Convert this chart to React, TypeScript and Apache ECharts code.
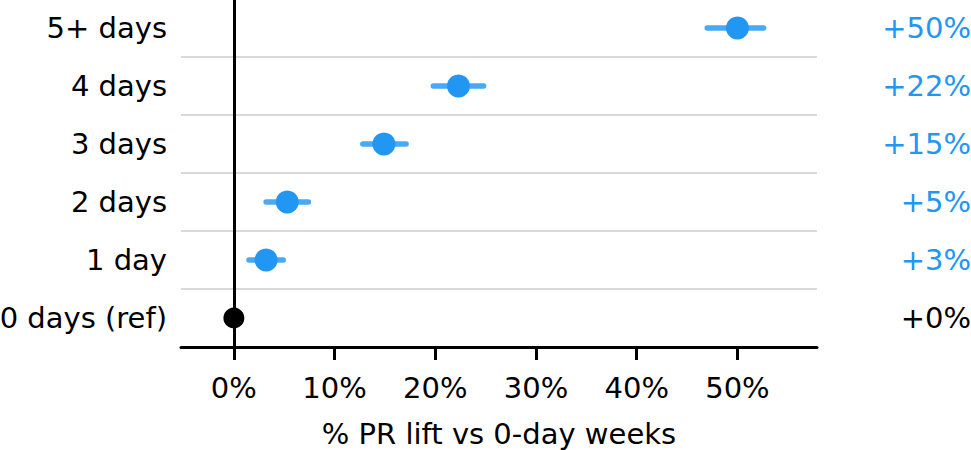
import React, { useEffect, useRef } from "react";
import * as echarts from "echarts";

// Weekly activity buckets (bottom to top)
const categories = ["0 days (ref)", "1 day", "2 days", "3 days", "4 days", "5+ days"];
// Point estimate of PR lift (%) relative to 0-day weeks
const lift = [0, 3.2, 5.3, 14.9, 22.3, 50.0];
// Confidence interval bounds (%)
const ciLow = [0, 1.5, 3.2, 12.8, 19.8, 47.0];
const ciHigh = [0, 4.9, 7.4, 17.1, 24.8, 52.6];
// X tick positions (%)
const xTicks = [0, 10, 20, 30, 40, 50];

const BLUE = "#2196F3";
const FONT = "DejaVu Sans";

export default function App() {
  const ref = useRef<HTMLDivElement>(null);

  useEffect(() => {
    if (!ref.current) return;
    const chart = echarts.init(ref.current, null, { renderer: "svg" });
    const liftLabels = lift.map((v) => `+${Math.round(v)}%`);

    chart.setOption({
      animation: false,
      grid: {
        left: 181,
        right: 154,
        top: -1,
        bottom: 103,
        containLabel: false,
        outerBoundsMode: "none",
      },
      xAxis: {
        type: "value",
        min: -5.25,
        max: 57.9,
        name: "% PR lift vs 0-day weeks",
        nameLocation: "middle",
        nameGap: 72,
        nameTextStyle: { fontFamily: FONT, fontSize: 29, color: "#000" },
        axisLine: { show: true, onZero: false, lineStyle: { color: "#000", width: 3 } },
        axisTick: {
          show: true,
          length: 13,
          customValues: xTicks,
          lineStyle: { color: "#000", width: 3 },
        },
        axisLabel: {
          customValues: xTicks,
          formatter: (v: number) => `${v}%`,
          fontFamily: FONT,
          fontSize: 29,
          color: "#000",
          margin: 26,
        },
        splitLine: { show: false },
      },
      yAxis: [
        {
          type: "category",
          data: categories,
          axisLine: { show: true, lineStyle: { color: "#000", width: 3 } },
          axisTick: { show: false },
          axisLabel: { fontFamily: FONT, fontSize: 29, color: "#000", margin: 14 },
          splitLine: { show: true, lineStyle: { color: "#cccccc", width: 1.5 } },
        },
        {
          type: "category",
          data: categories,
          position: "right",
          axisLine: { show: false },
          axisTick: { show: false },
          splitLine: { show: false },
          axisLabel: {
            formatter: (_: string, i: number) => liftLabels[i],
            color: (_: string, i: number) => (lift[i] === 0 ? "#000" : BLUE),
            align: "right",
            margin: 154,
            fontFamily: FONT,
            fontSize: 29,
          },
        },
      ],
      series: [
        {
          type: "custom",
          z: 2,
          data: categories.map((_, i) => [i, ciLow[i], ciHigh[i]]),
          encode: { x: [1, 2], y: 0 },
          renderItem: (params: any, api: any) => {
            const idx = api.value(0);
            const lo = api.value(1);
            const hi = api.value(2);
            if (hi - lo <= 0) return null;
            const p1 = api.coord([lo, idx]);
            const p2 = api.coord([hi, idx]);
            return {
              type: "line",
              shape: { x1: p1[0], y1: p1[1], x2: p2[0], y2: p2[1] },
              style: { stroke: "rgba(33,150,243,0.82)", lineWidth: 5.5, lineCap: "round" },
            };
          },
          markLine: {
            silent: true,
            symbol: "none",
            label: { show: false },
            lineStyle: { color: "#000", width: 2.5, type: "solid" },
            data: [{ xAxis: 0 }],
          },
        },
        {
          type: "scatter",
          z: 3,
          data: lift.map((v, i) => ({
            value: [v, i],
            symbolSize: v === 0 ? 21 : 23,
            itemStyle: { color: v === 0 ? "#000" : BLUE, opacity: 1 },
          })),
        },
      ],
    });

    return () => chart.dispose();
  }, []);

  return (
    <div
      ref={ref}
      style={{ position: "fixed", left: 0, top: 0, width: 971, height: 450, background: "#fff" }}
    />
  );
}
